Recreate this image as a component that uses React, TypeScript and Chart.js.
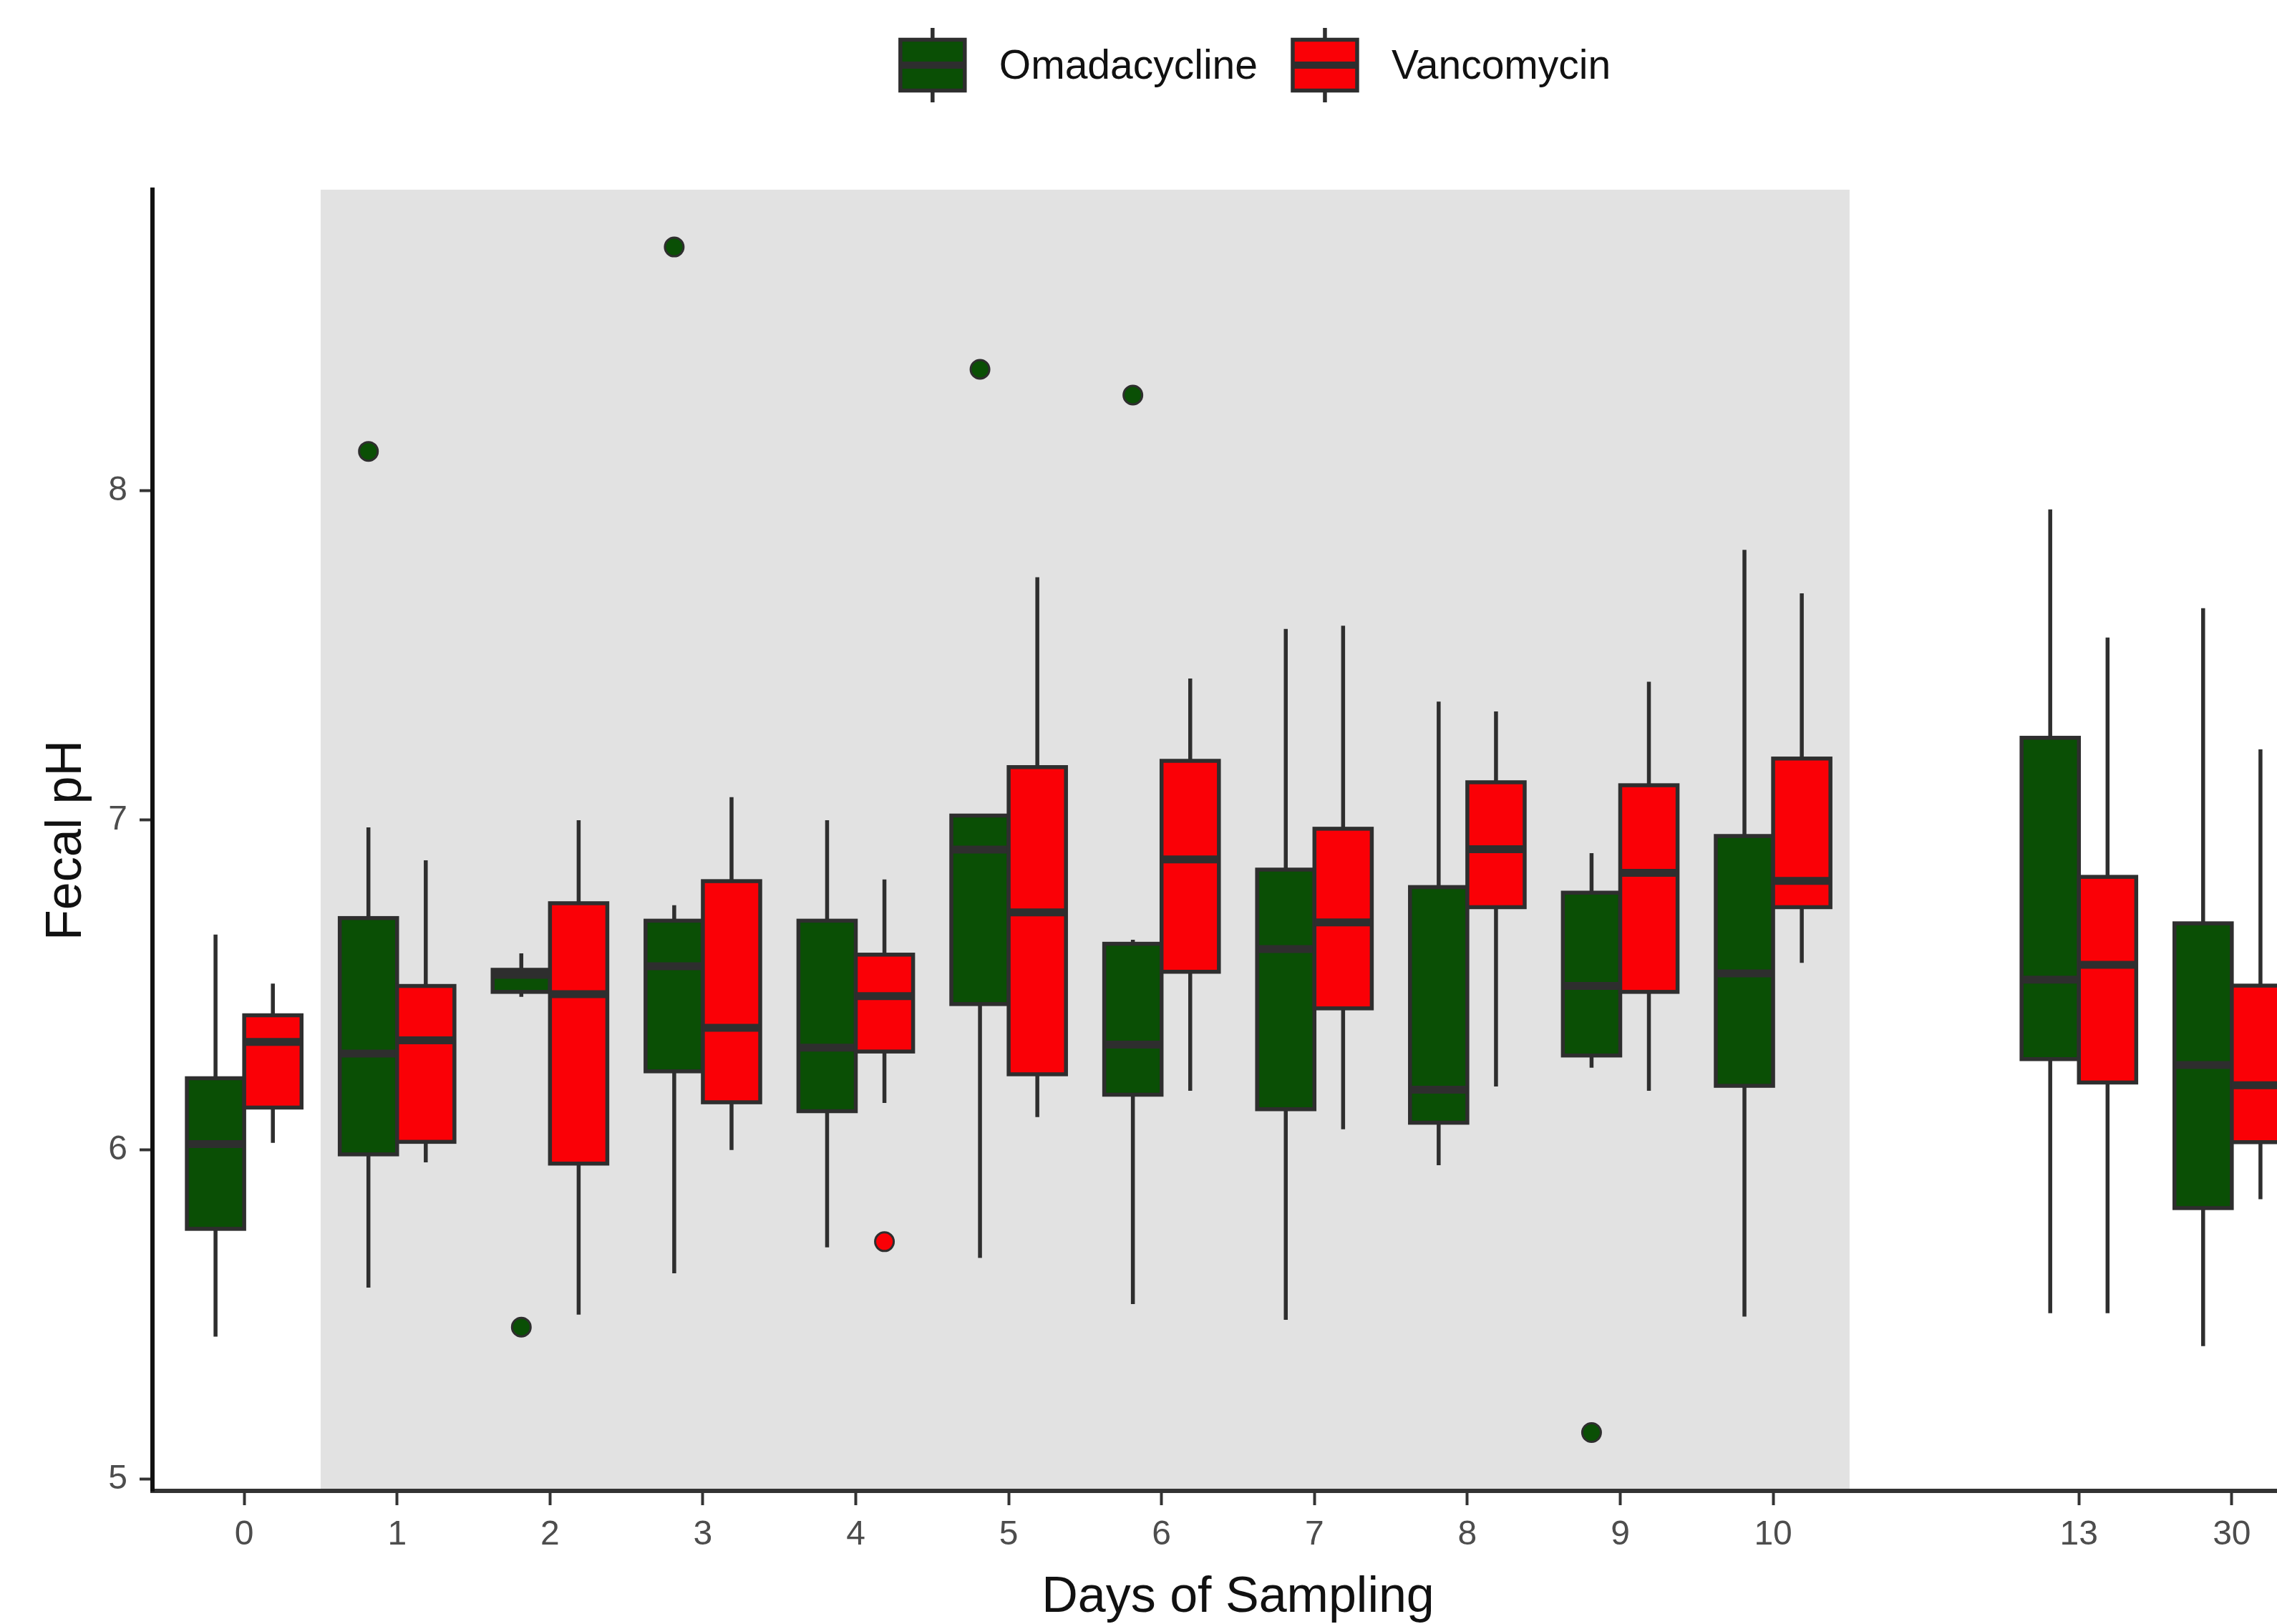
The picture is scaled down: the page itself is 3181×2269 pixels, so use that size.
import React, { useEffect, useRef } from "react";
import { Chart, registerables } from "chart.js";

Chart.register(...registerables);

const FONT = "'Liberation Sans', Arial, Helvetica, sans-serif";

// ---------- data ----------
// x categories ('' is the empty slot between day 10 and day 13 on the axis)
const categories = ["0", "1", "2", "3", "4", "5", "6", "7", "8", "9", "10", "", "13", "30"];
const seriesNames = ["Omadacycline", "Vancomycin"];
const seriesFills = ["#0A4F05", "#FA0006"];
const treatmentWindow = ["1", "10"]; // shaded days

const yTicks = [5, 6, 7, 8];
const yMin = 4.965;
const yMax = 8.913;

// Omadacycline box statistics
const omaLow = [5.433, 5.582, 6.464, 5.625, 5.704, 5.672, 5.532, 5.484, 5.953, 6.249, 5.494, null, 5.504, 5.404];
const omaQ1 = [5.760, 5.986, 6.479, 6.238, 6.117, 6.442, 6.167, 6.123, 6.082, 6.286, 6.194, null, 6.275, 5.823];
const omaMedian = [6.017, 6.292, 6.531, 6.557, 6.310, 6.911, 6.319, 6.609, 6.182, 6.497, 6.535, null, 6.516, 6.257];
const omaQ3 = [6.217, 6.703, 6.546, 6.695, 6.695, 7.014, 6.625, 6.850, 6.797, 6.780, 6.952, null, 7.250, 6.687];
const omaHigh = [6.653, 6.978, 6.596, 6.742, 7.000, 7.014, 6.637, 7.580, 7.360, 6.900, 7.820, null, 7.943, 7.643];
const omaOutlierDays = ["1", "2", "3", "5", "6", "9"];
const omaOutlierValues = [8.119, 5.462, 8.739, 8.368, 8.290, 5.142];

// Vancomycin box statistics
const vanLow = [6.021, 5.962, 5.500, 5.999, 6.142, 6.099, 6.179, 6.062, 6.192, 6.179, 6.567, null, 5.504, 5.850];
const vanQ1 = [6.128, 6.024, 5.958, 6.144, 6.298, 6.229, 6.540, 6.429, 6.736, 6.479, 6.736, null, 6.204, 6.023];
const vanMedian = [6.327, 6.332, 6.472, 6.370, 6.466, 6.720, 6.881, 6.690, 6.912, 6.840, 6.816, null, 6.561, 6.196];
const vanQ3 = [6.408, 6.497, 6.748, 6.815, 6.592, 7.161, 7.180, 6.974, 7.115, 7.106, 7.187, null, 6.828, 6.498];
const vanHigh = [6.504, 6.878, 7.000, 7.070, 6.820, 7.737, 7.430, 7.590, 7.330, 7.420, 7.688, null, 7.554, 7.215];
const vanOutlierDays = ["4"];
const vanOutlierValues = [5.721];

// ---------- styling ----------
const EDGE = "#2E2E2E";
const SHADE = "#E2E2E2";
const BOX_W = 0.375; // box width in category units (dodge 0.75)
const CANVAS_W = 3508;
const CANVAS_H = 2269;

const seriesStats = [
  { low: omaLow, q1: omaQ1, med: omaMedian, q3: omaQ3, high: omaHigh },
  { low: vanLow, q1: vanQ1, med: vanMedian, q3: vanQ3, high: vanHigh },
];

const outlierSets = [
  { days: omaOutlierDays, values: omaOutlierValues },
  { days: vanOutlierDays, values: vanOutlierValues },
];

const offsetFor = (si: number) => (si - 0.5) * BOX_W;

const boxplotPlugin = {
  id: "boxplotPlugin",
  beforeDraw(chart: any) {
    const { ctx, chartArea, scales } = chart;
    const x = scales.x;
    const a = categories.indexOf(treatmentWindow[0]) - 0.5;
    const b = categories.indexOf(treatmentWindow[1]) + 0.5;
    const x0 = x.getPixelForValue(a);
    const x1 = x.getPixelForValue(b);
    ctx.save();
    ctx.fillStyle = SHADE;
    ctx.fillRect(x0, chartArea.top, x1 - x0, chartArea.bottom - chartArea.top);
    ctx.restore();
  },
  beforeDatasetsDraw(chart: any) {
    const { ctx, chartArea, scales } = chart;
    const x = scales.x;
    const y = scales.y;
    ctx.save();
    ctx.beginPath();
    ctx.rect(chartArea.left, chartArea.top, chartArea.right - chartArea.left, chartArea.bottom - chartArea.top);
    ctx.clip();
    categories.forEach((cat, i) => {
      if (!cat) return;
      seriesStats.forEach((s, si) => {
        const lo = s.low[i];
        if (lo == null) return;
        const off = offsetFor(si);
        const xc = x.getPixelForValue(i + off);
        const xl = x.getPixelForValue(i + off - BOX_W / 2);
        const xr = x.getPixelForValue(i + off + BOX_W / 2);
        const yLo = y.getPixelForValue(lo);
        const yQ1 = y.getPixelForValue(s.q1[i] as number);
        const yMed = y.getPixelForValue(s.med[i] as number);
        const yQ3 = y.getPixelForValue(s.q3[i] as number);
        const yHi = y.getPixelForValue(s.high[i] as number);
        ctx.strokeStyle = EDGE;
        ctx.lineCap = "butt";
        ctx.lineWidth = 5.5;
        ctx.beginPath();
        ctx.moveTo(xc, yHi);
        ctx.lineTo(xc, yQ3);
        ctx.moveTo(xc, yQ1);
        ctx.lineTo(xc, yLo);
        ctx.stroke();
        ctx.fillStyle = seriesFills[si];
        ctx.fillRect(xl, yQ3, xr - xl, yQ1 - yQ3);
        ctx.lineWidth = 5.5;
        ctx.strokeRect(xl, yQ3, xr - xl, yQ1 - yQ3);
        ctx.lineWidth = 11;
        ctx.beginPath();
        ctx.moveTo(xl, yMed);
        ctx.lineTo(xr, yMed);
        ctx.stroke();
      });
    });
    ctx.restore();
  },
  afterDraw(chart: any) {
    const { ctx } = chart;
    const KEY_W = 90;
    const KEY_BOX_H = 71;
    const KEY_WHISK_H = 104;
    const KEY_GAP = 48;
    const ITEM_GAP = 49;
    const keyCy = 91;
    const textCy = 94;
    ctx.save();
    ctx.font = `57px ${FONT}`;
    const widths = seriesNames.map((n) => ctx.measureText(n).width);
    const total =
      widths.reduce((acc, w) => acc + KEY_W + KEY_GAP + w, 0) + ITEM_GAP * (seriesNames.length - 1);
    let xPos = chart.width / 2 - total / 2;
    seriesNames.forEach((name, i) => {
      const cx = xPos + KEY_W / 2;
      ctx.strokeStyle = EDGE;
      ctx.lineWidth = 5.5;
      ctx.beginPath();
      ctx.moveTo(cx, keyCy - KEY_WHISK_H / 2);
      ctx.lineTo(cx, keyCy + KEY_WHISK_H / 2);
      ctx.stroke();
      ctx.fillStyle = seriesFills[i];
      ctx.fillRect(xPos, keyCy - KEY_BOX_H / 2, KEY_W, KEY_BOX_H);
      ctx.strokeRect(xPos, keyCy - KEY_BOX_H / 2, KEY_W, KEY_BOX_H);
      ctx.lineWidth = 10;
      ctx.beginPath();
      ctx.moveTo(xPos, keyCy);
      ctx.lineTo(xPos + KEY_W, keyCy);
      ctx.stroke();
      ctx.fillStyle = "#111111";
      ctx.textAlign = "left";
      ctx.textBaseline = "middle";
      ctx.fillText(name, xPos + KEY_W + KEY_GAP, textCy);
      xPos += KEY_W + KEY_GAP + widths[i] + ITEM_GAP;
    });
    ctx.restore();
  },
};

export default function App() {
  const ref = useRef<HTMLCanvasElement | null>(null);

  useEffect(() => {
    if (!ref.current) return;
    const datasets = outlierSets.map((o, si) => ({
      type: "scatter" as const,
      label: seriesNames[si],
      data: o.days.map((d, k) => ({ x: categories.indexOf(d) + offsetFor(si), y: o.values[k] })),
      pointRadius: 13,
      pointHoverRadius: 13,
      pointBackgroundColor: seriesFills[si],
      pointBorderColor: EDGE,
      pointBorderWidth: 3,
      showLine: false,
    }));

    const chart = new Chart(ref.current, {
      type: "scatter",
      data: { datasets },
      options: {
        responsive: false,
        animation: false,
        devicePixelRatio: 1,
        layout: { padding: { top: 265, right: CANVAS_W - 3246, bottom: 0, left: 0 } },
        plugins: {
          legend: { display: false },
          tooltip: { enabled: false },
        },
        scales: {
          x: {
            type: "linear",
            min: -0.6,
            max: categories.length - 1 + 0.6,
            afterBuildTicks: (scale: any) => {
              scale.ticks = categories
                .map((c, i) => (c ? { value: i } : null))
                .filter((t) => t !== null);
            },
            afterFit: (scale: any) => {
              scale.height = 186;
            },
            ticks: {
              callback: (v: any) => categories[Math.round(Number(v))],
              font: { family: FONT, size: 48 },
              color: "#4D4D4D",
              padding: 13,
              maxRotation: 0,
              autoSkip: false,
            },
            grid: {
              display: true,
              drawOnChartArea: false,
              drawTicks: true,
              tickLength: 20,
              tickColor: "#333333",
              tickWidth: 4,
            },
            border: { display: true, color: "#333333", width: 6 },
            title: {
              display: true,
              text: "Days of Sampling",
              font: { family: FONT, size: 70, lineHeight: 1 },
              color: "#111111",
              padding: { top: 0, bottom: 1 },
            },
          },
          y: {
            type: "linear",
            min: yMin,
            max: yMax,
            afterBuildTicks: (scale: any) => {
              scale.ticks = yTicks.map((v) => ({ value: v }));
            },
            afterFit: (scale: any) => {
              scale.width = 213;
            },
            ticks: {
              callback: (v: any) => String(v),
              font: { family: FONT, size: 48 },
              color: "#4D4D4D",
              padding: 17,
            },
            grid: {
              display: true,
              drawOnChartArea: false,
              drawTicks: true,
              tickLength: 18,
              tickColor: "#333333",
              tickWidth: 4,
            },
            border: { display: true, color: "#111111", width: 6 },
            title: {
              display: true,
              text: "Fecal pH",
              font: { family: FONT, size: 70 },
              color: "#111111",
              padding: { top: 52, bottom: 0 },
            },
          },
        },
      } as any,
      plugins: [boxplotPlugin],
    });

    return () => chart.destroy();
  }, []);

  return (
    <div
      style={{
        position: "fixed",
        left: 0,
        top: 0,
        width: 3181,
        height: CANVAS_H,
        overflow: "hidden",
        background: "#ffffff",
      }}
    >
      <canvas ref={ref} width={CANVAS_W} height={CANVAS_H} style={{ display: "block" }} />
    </div>
  );
}
